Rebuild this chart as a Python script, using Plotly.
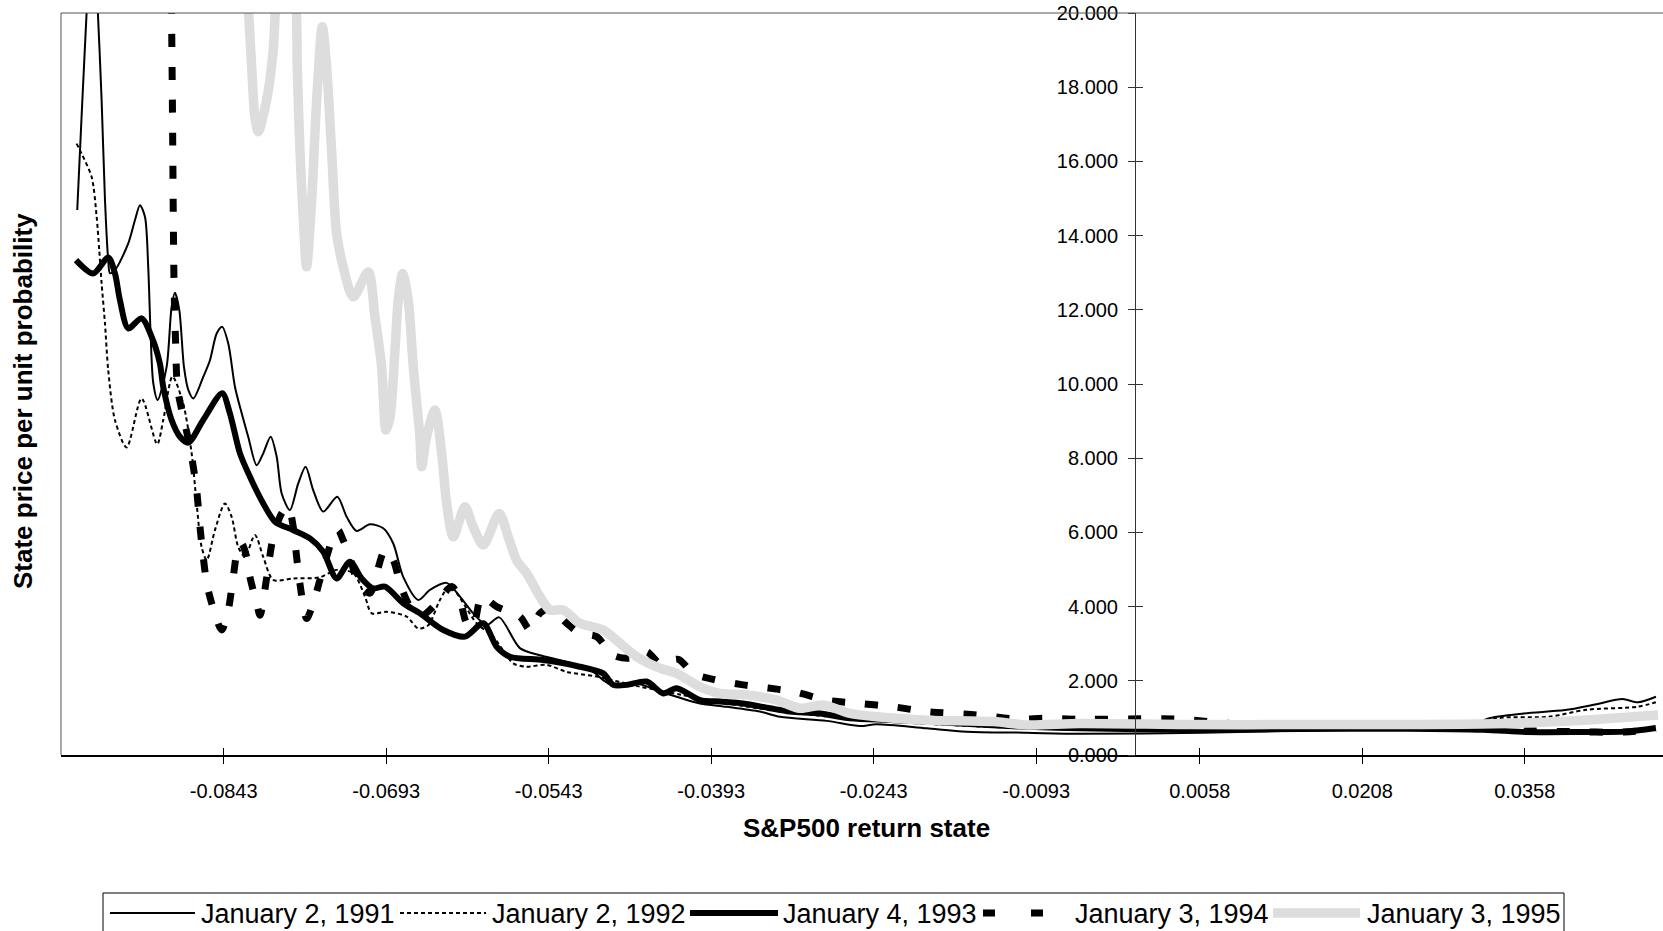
import plotly.graph_objects as go

# ---------------------------------------------------------------- data
x_1991 = [-0.09782, -0.09739, -0.09690, -0.09646, -0.09597, -0.09557, -0.09526, -0.09496, -0.09480, -0.09434,
          -0.09311, -0.09249, -0.09203, -0.09157, -0.09127, -0.09105, -0.09080, -0.09040, -0.08957, -0.08911,
          -0.08880, -0.08840, -0.08797, -0.08757, -0.08711, -0.08619, -0.08557, -0.08495, -0.08444, -0.08388,
          -0.08326, -0.08264, -0.08204, -0.08126, -0.08065, -0.07997, -0.07941, -0.07895, -0.07819, -0.07742,
          -0.07674, -0.07604, -0.07511, -0.07382, -0.07295, -0.07203, -0.07080, -0.06957, -0.06865, -0.06773,
          -0.06634, -0.06526, -0.06372, -0.06249, -0.06127, -0.06003, -0.05887, -0.05696, -0.05511, -0.05264,
          -0.05019, -0.04927, -0.04819, -0.04618, -0.04403, -0.04249, -0.04034, -0.03788, -0.03480, -0.03295,
          -0.02864, -0.02557, -0.02403, -0.01941, -0.01572, -0.01018, -0.00526, 0.00605, 0.01658, 0.03092,
          0.03236, 0.03572, 0.03951, 0.04242, 0.04481, 0.04625, 0.04791]
y_1991 = [14.69, 17.4, 20.35, 23.0, 20.35, 17.65, 14.96, 13.34, 12.99, 13.07,
          13.79, 14.42, 14.82, 14.51, 13.16, 11.36, 10.02, 9.57, 10.46, 12.08,
          12.46, 11.99, 10.46, 9.84, 9.61, 10.19, 10.64, 11.36, 11.54, 11.09,
          9.92, 9.21, 8.58, 7.81, 8.13, 8.58, 8.04, 7.05, 6.60, 7.32,
          7.77, 7.14, 6.56, 6.96, 6.42, 6.04, 6.22, 6.11, 5.70, 4.80,
          4.18, 4.45, 4.64, 4.27, 3.82, 3.50, 3.71, 2.88, 2.69, 2.51,
          2.24, 2.02, 1.84, 1.93, 1.71, 1.57, 1.39, 1.30, 1.17, 1.03,
          0.92, 0.78, 0.83, 0.72, 0.63, 0.60, 0.57, 0.60, 0.67, 0.78,
          0.98, 1.12, 1.21, 1.37, 1.51, 1.42, 1.57]

x_1992 = [-0.09788, -0.09742, -0.09649, -0.09603, -0.09579, -0.09557, -0.09526, -0.09496, -0.09434, -0.09326,
          -0.09188, -0.09044, -0.08988, -0.08903, -0.08804, -0.08726, -0.08680, -0.08634, -0.08587, -0.08511,
          -0.08419, -0.08357, -0.08296, -0.08234, -0.08142, -0.08065, -0.07973, -0.07788, -0.07542, -0.07388,
          -0.07234, -0.07126, -0.07064, -0.06926, -0.06741, -0.06634, -0.06542, -0.06434, -0.06342, -0.06095,
          -0.05942, -0.05757, -0.05634, -0.05449, -0.05264, -0.0500, -0.0460, -0.0420, -0.0380, -0.0340,
          -0.0290, -0.0240, -0.0180, -0.0120, -0.0060, 0.0050, 0.0150, 0.0250, 0.0305, 0.0335,
          0.0380, 0.0415, 0.0462, 0.0479]
y_1992 = [16.48, 16.21, 15.58, 14.51, 13.61, 12.71, 11.63, 10.37, 9.03, 8.29,
          9.61, 8.38, 9.03, 10.20, 9.47, 8.13, 6.78, 5.61, 5.25, 6.06,
          6.78, 6.42, 5.61, 5.34, 5.93, 5.34, 4.72, 4.76, 4.79, 4.99,
          4.90, 4.27, 3.82, 3.86, 3.73, 3.41, 3.50, 4.18, 4.54, 3.55,
          3.19, 2.47, 2.38, 2.43, 2.24, 2.12, 1.85, 1.62, 1.40, 1.22,
          1.05, 0.92, 0.82, 0.74, 0.69, 0.67, 0.69, 0.72, 0.78, 1.00,
          1.03, 1.22, 1.30, 1.42]

x_1993 = [-0.09794, -0.09634, -0.09496, -0.09434, -0.09388, -0.09311, -0.09188, -0.09095, -0.09019, -0.08988,
          -0.08911, -0.08834, -0.08757, -0.08619, -0.08444, -0.08373, -0.08280, -0.08188, -0.08065, -0.07957,
          -0.07788, -0.07634, -0.07511, -0.07388, -0.07265, -0.07157, -0.07050, -0.06942, -0.06773, -0.06619,
          -0.06403, -0.06203, -0.06034, -0.05911, -0.05788, -0.05480, -0.05172, -0.04927, -0.04834, -0.04711,
          -0.04526, -0.04373, -0.04249, -0.04034, -0.03849, -0.03634, -0.03388, -0.03203, -0.02926, -0.02649,
          -0.02250, -0.01634, -0.01018, -0.00526, 0.0050, 0.0150, 0.0250, 0.0320, 0.0360, 0.0410,
          0.0450, 0.0479]
y_1993 = [13.34, 12.98, 13.41, 12.98, 12.26, 11.50, 11.77, 11.27, 10.55, 9.92,
          9.03, 8.58, 8.42, 9.03, 9.75, 9.21, 8.13, 7.50, 6.78, 6.29,
          6.06, 5.84, 5.48, 4.76, 5.21, 4.76, 4.49, 4.54, 4.09, 3.82,
          3.37, 3.19, 3.55, 2.92, 2.65, 2.56, 2.40, 2.20, 1.89, 1.89,
          1.98, 1.66, 1.80, 1.48, 1.44, 1.39, 1.26, 1.17, 1.12, 0.99,
          0.94, 0.85, 0.76, 0.72, 0.68, 0.70, 0.71, 0.68, 0.62, 0.62,
          0.63, 0.73]

x_1994 = [-0.08922, -0.08905, -0.08889, -0.08875, -0.08857, -0.08818, -0.08772, -0.08726, -0.08680, -0.08649,
          -0.08619, -0.08587, -0.08541, -0.08449, -0.08388, -0.08342, -0.08296, -0.08264, -0.08218, -0.08188,
          -0.08126, -0.08095, -0.08034, -0.07973, -0.07895, -0.07834, -0.07788, -0.07757, -0.07727, -0.07665,
          -0.07604, -0.07542, -0.07480, -0.07419, -0.07373, -0.07327, -0.07265, -0.07188, -0.07080, -0.07018,
          -0.06942, -0.06865, -0.06803, -0.06727, -0.06618, -0.06465, -0.06326, -0.06249, -0.06187, -0.06127,
          -0.06049, -0.05911, -0.05696, -0.05603, -0.05511, -0.05419, -0.05264, -0.05142, -0.04988, -0.04834,
          -0.04680, -0.04526, -0.04403, -0.04234, -0.04096, -0.03911, -0.03634, -0.03173, -0.02864, -0.02557,
          -0.02250, -0.01941, -0.01480, -0.01080, -0.00865, -0.00526, 0.00351, 0.0100, 0.0200, 0.0300,
          0.0350, 0.0400, 0.0450, 0.0479]
y_1994 = [23.0, 18.0, 12.8, 11.2, 9.9, 9.30, 8.71, 8.04, 7.14, 6.15,
          5.34, 4.63, 4.09, 3.37, 3.91, 4.80, 5.61, 5.70, 5.34, 4.80,
          4.09, 3.77, 4.76, 5.88, 6.51, 6.69, 6.15, 5.34, 4.63, 3.68,
          4.09, 4.72, 5.34, 5.88, 6.06, 5.79, 5.34, 4.63, 4.36, 4.90,
          5.52, 5.25, 4.63, 4.09, 3.73, 4.09, 4.54, 4.18, 3.55, 3.46,
          4.27, 4.00, 3.73, 3.37, 3.82, 3.95, 3.55, 3.28, 3.19, 2.69,
          2.61, 2.78, 2.47, 2.58, 2.20, 2.04, 1.89, 1.71, 1.48, 1.39,
          1.30, 1.17, 1.08, 0.96, 0.99, 0.96, 0.97, 0.82, 0.80, 0.76,
          0.66, 0.63, 0.62, 0.70]

x_1995 = [-0.08253, -0.08204, -0.08172, -0.08142, -0.08111, -0.08034, -0.07973, -0.07948, -0.07856, -0.07763,
          -0.07751, -0.07726, -0.07696, -0.07665, -0.07618, -0.07572, -0.07520, -0.07480, -0.07434, -0.07388,
          -0.07327, -0.07234, -0.07096, -0.07034, -0.06972, -0.06932, -0.06895, -0.06849, -0.06819, -0.06778,
          -0.06727, -0.06680, -0.06619, -0.06603, -0.06557, -0.06480, -0.06418, -0.06372, -0.06311, -0.06203,
          -0.06127, -0.06034, -0.05887, -0.05804, -0.05726, -0.05634, -0.05511, -0.05419, -0.05296, -0.05142,
          -0.04927, -0.04772, -0.04618, -0.04403, -0.04249, -0.04034, -0.03849, -0.03603, -0.03326, -0.03111,
          -0.02896, -0.02649, -0.02403, -0.01941, -0.01326, -0.01018, -0.00526, 0.0050, 0.0150, 0.0250,
          0.0330, 0.0389, 0.0481]
y_1995 = [22.5, 20.2, 18.55, 17.2, 16.80, 17.65, 19.0, 20.3, 22.5, 20.3,
          18.55, 16.28, 14.51, 13.16, 14.96, 17.65, 19.63, 18.55, 16.28, 14.06,
          13.16, 12.35, 13.02, 11.81, 10.46, 8.76, 9.1, 10.91, 12.26, 12.98,
          12.26, 10.46, 8.58, 7.77, 8.58, 9.30, 8.13, 6.78, 5.88, 6.69,
          6.15, 5.66, 6.51, 5.88, 5.25, 4.90, 4.27, 3.91, 3.91, 3.55,
          3.37, 3.01, 2.65, 2.34, 2.20, 1.84, 1.66, 1.62, 1.48, 1.26,
          1.35, 1.12, 1.03, 0.94, 0.90, 0.81, 0.85, 0.82, 0.82, 0.82,
          0.84, 0.90, 1.08]

series_names = ["January 2, 1991", "January 2, 1992", "January 4, 1993",
                "January 3, 1994", "January 3, 1995"]
tick_values = [-0.0843, -0.0693, -0.0543, -0.0393, -0.0243, -0.0093, 0.0058, 0.0208, 0.0358]
tick_labels = ["-0.0843", "-0.0693", "-0.0543", "-0.0393", "-0.0243", "-0.0093", "0.0058", "0.0208", "0.0358"]
y_ticks = [0, 2, 4, 6, 8, 10, 12, 14, 16, 18, 20]

# ---------------------------------------------------------------- styling
FONT = "Arial, Liberation Sans, sans-serif"
W, H = 1663, 931
L, T, B_PX = 61, 13, 755          # plot area edges in pixels (right edge = window edge)
X_RANGE = [-0.09932, 0.04856]
Y_RANGE = [0, 20]
Y_AXIS_POS = (1135 - L) / (W - L)   # vertical axis crosses near a return of zero

styles = [
    dict(color="black", width=2, dash="solid"),
    dict(color="black", width=2, dash="4px,3px"),
    dict(color="black", width=6, dash="solid"),
    dict(color="black", width=7, dash="13px,20px"),
    dict(color="#dddddd", width=9.5, dash="solid"),
]
legend_dash = ["solid", "4px,3px", "solid", "12px,36px", "solid"]
xs = [x_1991, x_1992, x_1993, x_1994, x_1995]
ys = [y_1991, y_1992, y_1993, y_1994, y_1995]


def paper_x(px):
    return (px - L) / (W - L)


def paper_y(py):
    return (B_PX - py) / (B_PX - T)


fig = go.Figure()
for name, xv, yv, st in zip(series_names, xs, ys, styles):
    fig.add_trace(go.Scatter(
        x=xv, y=yv, name=name, mode="lines",
        line=dict(color=st["color"], width=st["width"], dash=st["dash"],
                  shape="spline", smoothing=0.8),
        showlegend=False, hoverinfo="skip",
    ))

# empty trace so the companion axes (inner tick halves) are drawn
fig.add_trace(go.Scatter(x=[None], y=[None], xaxis="x2", yaxis="y2",
                         showlegend=False, hoverinfo="skip"))

tick_font = dict(family=FONT, size=20, color="black")
fig.update_layout(
    width=W, height=H,
    margin=dict(l=L, r=0, t=T, b=H - B_PX, pad=0),
    paper_bgcolor="white", plot_bgcolor="white",
    showlegend=False,
    xaxis=dict(range=X_RANGE, showgrid=False, zeroline=False,
               showline=True, linecolor="black", linewidth=2,
               ticks="outside", ticklen=7, tickwidth=1, tickcolor="black",
               tickvals=tick_values, ticktext=tick_labels, tickfont=tick_font,
               ticklabelstandoff=10, anchor="y"),
    xaxis2=dict(range=X_RANGE, matches="x", overlaying="x", anchor="y2",
                showgrid=False, zeroline=False, showline=False,
                ticks="inside", ticklen=7, tickwidth=1, tickcolor="black",
                tickvals=tick_values, showticklabels=False),
    yaxis=dict(range=Y_RANGE, showgrid=False, zeroline=False,
               showline=True, linecolor="#333333", linewidth=1,
               anchor="free", position=Y_AXIS_POS,
               ticks="outside", ticklen=7, tickwidth=1, tickcolor="#333333",
               tickvals=y_ticks, tickformat=".3f", tickfont=tick_font,
               ticklabelstandoff=6),
    yaxis2=dict(range=Y_RANGE, matches="y", overlaying="y",
                anchor="free", position=Y_AXIS_POS,
                showgrid=False, zeroline=False, showline=False,
                ticks="inside", ticklen=7, tickwidth=1, tickcolor="#333333",
                tickvals=y_ticks, showticklabels=False),
)

shapes = [
    # plot-area frame: top and left edges
    dict(type="line", xref="paper", yref="paper", x0=0, x1=1, y0=1, y1=1,
         line=dict(color="#555555", width=1)),
    dict(type="line", xref="paper", yref="paper", x0=0, x1=0, y0=0, y1=1,
         line=dict(color="#555555", width=1)),
    # legend box
    dict(type="rect", xref="paper", yref="paper",
         x0=paper_x(103), x1=paper_x(1564), y0=paper_y(945), y1=paper_y(893),
         line=dict(color="black", width=1), fillcolor="white"),
]
annotations = [
    dict(text="<b>S&P500 return state</b>", xref="paper", yref="paper",
         x=paper_x(866), y=paper_y(828), xanchor="center", yanchor="middle",
         showarrow=False, font=dict(family=FONT, size=26, color="black")),
    dict(text="<b>State price per unit probability</b>", xref="paper", yref="paper",
         x=paper_x(23), y=paper_y(401), xanchor="center", yanchor="middle",
         textangle=-90, showarrow=False, font=dict(family=FONT, size=26, color="black")),
]

# legend entries: sample line followed by its label
legend_samples = [(110, 195), (400, 486), (690, 778), (983, 1045), (1273, 1360)]
legend_text_x = [199, 490, 781, 1073, 1365]
legend_y = 913
for name, st, dash, (s0, s1), tx in zip(series_names, styles, legend_dash,
                                         legend_samples, legend_text_x):
    shapes.append(dict(type="line", xref="paper", yref="paper",
                       x0=paper_x(s0), x1=paper_x(s1),
                       y0=paper_y(legend_y), y1=paper_y(legend_y),
                       line=dict(color=st["color"], width=st["width"], dash=dash)))
    annotations.append(dict(text=name, xref="paper", yref="paper",
                            x=paper_x(tx), y=paper_y(legend_y + 1),
                            xanchor="left", yanchor="middle", showarrow=False,
                            font=dict(family=FONT, size=27, color="black")))

fig.update_layout(shapes=shapes, annotations=annotations)
fig.write_html("out.html")
